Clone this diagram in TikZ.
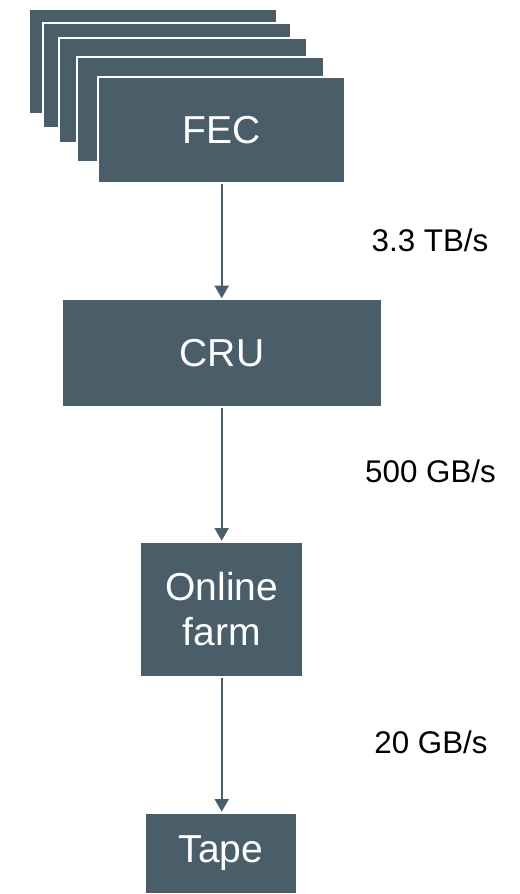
\documentclass[tikz,border=0pt]{standalone}
\usepackage{fontspec}
\setmainfont{Liberation Sans}
\usetikzlibrary{arrows.meta}
\definecolor{slate}{RGB}{74,94,106}
\tikzset{
  box/.style={rectangle, fill=slate, draw=white, line width=1.5pt, inner sep=0pt,
    text=white, font=\fontsize{29.25pt}{34pt}\selectfont, align=center},
  arr/.style={draw=slate, line width=1.5pt, -{Triangle[width=10.5pt,length=9.5pt]}},
  rate/.style={font=\fontsize{23.5pt}{28pt}\selectfont, text=black, inner sep=0pt}
}
\begin{document}
\begin{tikzpicture}[x=0.75pt,y=-0.75pt]
\useasboundingbox (0,0) rectangle (519,894);
% stacked FEC cards
\node[box, minimum width=247.4*0.75pt, minimum height=104.7*0.75pt] (b1) at (153.0,61.65) {};
\node[box, minimum width=248*0.75pt, minimum height=105*0.75pt] (b2) at (166.7,75.2) {};
\node[box, minimum width=247.7*0.75pt, minimum height=105*0.75pt] (b3) at (182.85,90.8) {};
\node[box, minimum width=247.3*0.75pt, minimum height=105*0.75pt] (b4) at (200.35,109.2) {};
\node[box, minimum width=247*0.75pt, minimum height=105.4*0.75pt] (fec) at (221.8,130) {FEC};
% main chain
\node[box, minimum width=320.6*0.75pt, minimum height=107.4*0.75pt] (cru) at (222,353) {CRU};
\node[box, minimum width=163.3*0.75pt, minimum height=135*0.75pt] (farm) at (221.7,609.2) {Online\\farm};
\node[box, minimum width=151.7*0.75pt, minimum height=81.3*0.75pt] (tape) at (220.85,853.35) {Tape};
% connectors
\draw[arr] (fec.south -| 221.7,0) -- (cru.north -| 221.7,0);
\draw[arr] (cru.south -| 221.7,0) -- (farm.north -| 221.7,0);
\draw[arr] (farm.south -| 221.7,0) -- (tape.north -| 221.7,0);
% rates
\node[rate] (r1) at (430,240) {3.3 TB/s};
\node[rate] (r2) at (430.5,471) {500 GB/s};
\node[rate] (r3) at (431,742) {20 GB/s};
\end{tikzpicture}
\end{document}
